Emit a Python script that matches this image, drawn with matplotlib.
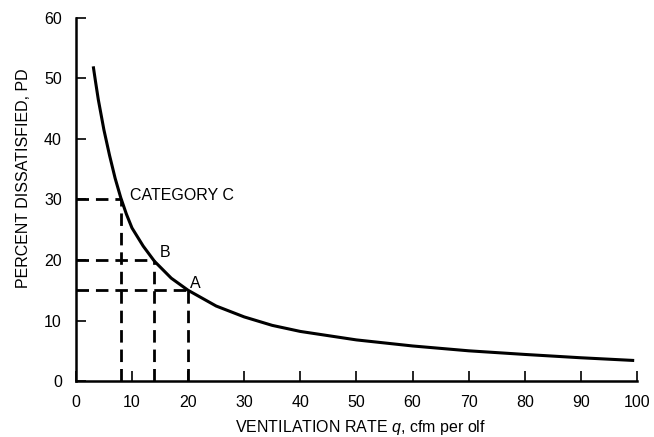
import matplotlib.pyplot as plt

plt.rcParams['font.family'] = ['Liberation Sans', 'DejaVu Sans']
plt.rcParams['mathtext.fontset'] = 'custom'
plt.rcParams['mathtext.rm'] = 'Liberation Sans'
plt.rcParams['mathtext.it'] = 'Liberation Sans:italic'

# curve
q_vals = [3.1, 3.5, 4.0, 5.0, 6.0, 7.0, 8.0, 9.0, 10.0, 12.0, 14.0, 17.0, 20.0,
          25, 30, 35, 40, 50, 60, 70, 80, 90, 99.5]
pd_vals = [52, 49.5, 46.5, 41.5, 37.3, 33.5, 30.3, 27.6, 25.3, 22.3, 19.8, 17.0, 15.0,
           12.4, 10.6, 9.2, 8.2, 6.8, 5.8, 5.0, 4.4, 3.85, 3.4]

# category points
cat_q = [8, 14, 20]
cat_pd = [30, 20, 15]
cat_labels = ['CATEGORY C', 'B', 'A']
label_pos = [(9.6, 30.6), (15.0, 21.2), (20.3, 16.2)]

fig = plt.figure(figsize=(6.54, 4.37), dpi=100)
ax = fig.add_axes([0.116, 0.128, 0.858, 0.831])

ax.plot(q_vals, pd_vals, color='black', linewidth=2.2, solid_capstyle='butt')

for q, pd in zip(cat_q, cat_pd):
    ax.plot([0, q], [pd, pd], color='black', linewidth=2.0, dashes=(4.5, 2.5))
    ax.plot([q, q], [0, pd], color='black', linewidth=2.0, dashes=(4.5, 2.5))

for (x, y), txt in zip(label_pos, cat_labels):
    ax.text(x, y, txt, fontsize=11.5, va='center', ha='left')

ax.set_xlim(0, 100)
ax.set_ylim(0, 60)
ax.set_xticks(range(0, 101, 10))
ax.set_yticks(range(0, 61, 10))
ax.tick_params(direction='in', length=7, width=1.2, labelsize=11.5, pad=10)
ax.spines['top'].set_visible(False)
ax.spines['right'].set_visible(False)
ax.spines['left'].set_linewidth(1.8)
ax.spines['bottom'].set_linewidth(1.8)

ax.set_xlabel('VENTILATION RATE $\\it{q}$, cfm per olf', fontsize=11.5)
ax.set_ylabel('PERCENT DISSATISFIED, PD', fontsize=11.5)
ax.xaxis.set_label_coords(0.508, -0.102)
ax.yaxis.set_label_coords(-0.080, 0.559)

fig.savefig('out.png', dpi=100)
